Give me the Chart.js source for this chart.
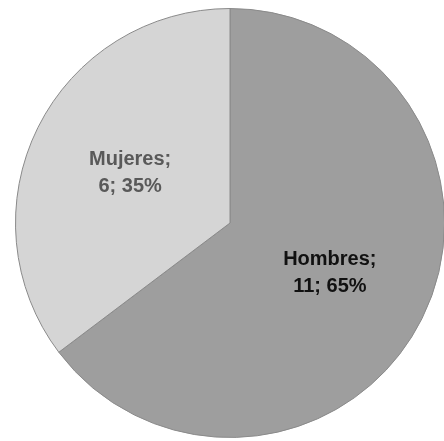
<!DOCTYPE html>
<html>
<head>
<meta charset="utf-8">
<script src="https://cdn.jsdelivr.net/npm/chart.js@4"></script>
<style>
  html, body { margin: 0; padding: 0; background: #fff; overflow: hidden; }
  #wrap { position: absolute; left: 0; top: 0; width: 460px; height: 446px; }
</style>
</head>
<body>
<div id="wrap"><canvas id="grafico"></canvas></div>
<script>
const categorias = ['Hombres', 'Mujeres'];
const cantidades = [11, 6];
const colores = ['#9e9e9e', '#d5d5d5'];
const coloresTexto = ['#111111', '#595959'];

// etiquetas "Nombre; n; %" dentro de cada porción
const etiquetas = {
  id: 'etiquetas',
  afterDatasetsDraw(chart) {
    const ctx = chart.ctx;
    const meta = chart.getDatasetMeta(0);
    const total = cantidades.reduce((a, b) => a + b, 0);
    ctx.save();
    ctx.font = 'bold 20px "Liberation Sans", Arial, sans-serif';
    ctx.textAlign = 'center';
    ctx.textBaseline = 'middle';
    meta.data.forEach((arc, i) => {
      const p = arc.getProps(['x', 'y', 'startAngle', 'endAngle', 'outerRadius']);
      const mid = (p.startAngle + p.endAngle) / 2;
      const d = p.outerRadius * 0.52;
      const x = p.x + Math.cos(mid) * d;
      const y = p.y + Math.sin(mid) * d;
      const pct = Math.round(cantidades[i] / total * 100);
      ctx.fillStyle = coloresTexto[i];
      ctx.fillText(categorias[i] + ';', x, y - 13.5);
      ctx.fillText(cantidades[i] + '; ' + pct + '%', x, y + 13.5);
    });
    ctx.restore();
  }
};

const ctx = document.getElementById('grafico');

new Chart(ctx, {
  type: 'pie',
  data: {
    labels: categorias,
    datasets: [{
      data: cantidades,
      backgroundColor: colores,
      borderColor: '#8a8a8a',
      borderWidth: 1,
    }]
  },
  options: {
    responsive: true,
    maintainAspectRatio: false,
    animation: false,
    layout: { padding: { left: 15, right: 15, top: 8, bottom: 8 } },
    plugins: {
      legend: { display: false },
      tooltip: { enabled: false }
    }
  },
  plugins: [etiquetas]
});
</script>
</body>
</html>
